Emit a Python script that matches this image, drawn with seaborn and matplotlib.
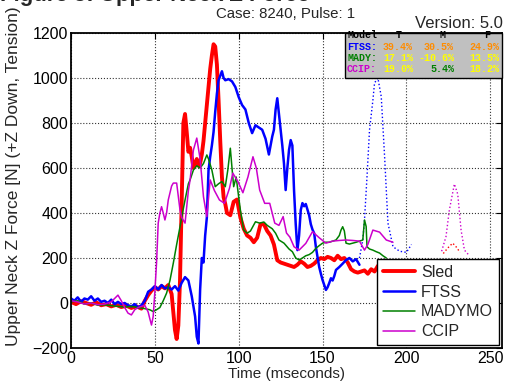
import numpy as np
import pandas as pd
import matplotlib
matplotlib.use('Agg')
import matplotlib.pyplot as plt
import seaborn as sns

sns.set_style('white')
plt.rcParams['font.family'] = ['Liberation Sans', 'DejaVu Sans']

# Sled (thick red)
sled_t = [0, 3, 6, 9, 12, 15, 18, 21, 24, 27,
          30, 33, 36, 39, 42, 44, 46, 48, 50, 52,
          54, 56, 58, 60, 61, 62, 63, 64, 65, 66,
          67, 68, 69, 70, 71, 72, 73, 74, 75, 76,
          77, 78, 79, 80, 81, 82, 83, 84, 85, 86,
          87, 88, 89, 90, 91, 92, 93, 95, 97, 99,
          101, 103, 105, 107, 109, 111, 113, 115, 117, 119,
          121, 123, 125, 127, 129, 131, 133, 135, 137, 139,
          141, 143, 145, 147, 149, 151, 153, 155, 157, 159,
          161, 163, 165, 167, 169, 171, 173, 175, 177, 179,
          181, 183, 185, 187, 189, 191, 193, 195]
sled_v = [5, -5, 8, 0, -8, 3, -10, -5, -15, -8,
          -18, -12, -22, -15, -25, 10, 35, 55, 70, 60,
          75, 65, 80, 40, -40, -120, -160, -100, 100, 450,
          800, 840, 760, 672, 690, 650, 600, 620, 640, 610,
          620, 660, 720, 800, 880, 960, 1040, 1100, 1150, 1140,
          1060, 900, 720, 560, 470, 440, 400, 390, 450, 460,
          380, 330, 300, 290, 270, 290, 350, 350, 320, 300,
          260, 190, 180, 175, 170, 165, 160, 170, 185, 175,
          160, 165, 175, 190, 200, 195, 205, 200, 190, 210,
          195, 200, 180, 150, 140, 135, 140, 145, 130, 150,
          140, 165, 175, 170, 165, 175, 170, 170]

# FTSS (blue)
ftss_t = [0, 2, 4, 6, 8, 10, 12, 14, 16, 18,
          20, 22, 24, 26, 28, 30, 32, 34, 36, 38,
          40, 42, 44, 46, 48, 50, 52, 54, 56, 58,
          60, 62, 64, 66, 68, 70, 72, 74, 75, 76,
          77, 78, 79, 80, 81, 82, 83, 84, 85, 86,
          87, 88, 89, 90, 91, 92, 94, 96, 98, 100,
          102, 104, 106, 108, 110, 112, 114, 116, 118, 120,
          121, 122, 123, 124, 125, 126, 127, 128, 129, 130,
          131, 132, 133, 134, 135, 136, 137, 138, 139, 140,
          141, 142, 143, 144, 145, 146, 147, 148, 149, 150,
          151, 152, 153, 154, 155, 156, 157, 158, 160, 162,
          164, 166, 168, 170, 172]
ftss_v = [20, 10, 25, 5, 20, 15, 30, 10, 20, 5,
          10, 0, 15, -5, 5, -5, 0, -10, -15, -5,
          -20, -10, 10, 50, 60, 75, 60, 80, 65, 70,
          60, 75, 55, 90, 115, 100, 30, -60, -150, -180,
          60, 200, 180, 300, 380, 590, 650, 700, 760, 850,
          930, 990, 1010, 1030, 1000, 990, 995, 985, 960, 915,
          880, 860, 800, 755, 790, 780, 770, 730, 660, 740,
          770, 860, 910, 840, 770, 700, 620, 502, 600, 680,
          724, 700, 500, 350, 235, 300, 413, 444, 430, 440,
          415, 390, 350, 326, 310, 250, 204, 160, 130, 102,
          80, 58, 70, 89, 110, 100, 120, 147, 160, 175,
          191, 200, 185, 195, 170]

# MADYMO (green)
mady_t = [0, 4, 8, 12, 16, 20, 24, 28, 32, 36,
          40, 44, 47, 49, 51, 53, 55, 57, 59, 61,
          63, 65, 67, 68, 70, 71, 73, 75, 77, 79,
          81, 82, 84, 86, 88, 90, 92, 93.5, 95, 96,
          97, 98.5, 100, 101, 103, 105, 107, 110, 112.5, 115,
          117, 120, 122, 124, 127, 130, 132, 134, 136, 138,
          140, 142, 144, 146, 148, 150, 152, 154, 156, 158,
          160, 161, 162, 163, 164, 166, 168, 170, 172, 174,
          175, 176, 176.5, 178, 180, 182, 184, 186, 188]
mady_v = [5, 10, -5, 0, -10, -8, -12, -15, -18, -15,
          -20, -25, -30, -38, -30, -20, 10, 44, 100, 177,
          260, 339, 420, 458, 530, 547, 591, 610, 600, 620,
          658, 640, 591, 517, 530, 540, 517, 591, 688, 600,
          517, 560, 470, 413, 324, 310, 320, 361, 355, 360,
          345, 330, 310, 280, 266, 240, 228, 200, 191, 200,
          210, 215, 225, 243, 255, 266, 270, 270, 275, 280,
          300, 324, 339, 320, 266, 262, 266, 270, 275, 280,
          369, 340, 250, 240, 235, 228, 222, 210, 200]

# CCIP (magenta)
ccip_t = [0, 4, 8, 12, 16, 20, 24, 26, 28, 30,
          32, 34, 36, 38, 40, 42, 44, 46, 47, 48,
          49, 50, 51, 52, 53, 54, 55, 56, 57, 58,
          60, 61, 63, 65, 66, 68, 70, 71, 73, 75,
          77, 79, 81, 83, 85.5, 88.5, 91.5, 94.5, 96.5, 99.5,
          102.5, 105.5, 108.5, 110.5, 112.5, 115.5, 118.5, 121.5, 124, 126.5,
          128.5, 130.5, 133, 136, 140, 144, 148, 152, 156, 160,
          164, 168, 172, 175, 177, 180, 184, 188, 192]
ccip_v = [10, 5, -5, 0, -8, -5, 5, 20, 35, 10,
          -20, -45, -53, -30, -20, -15, -10, -40, -70, -98,
          -60, 50, 177, 355, 400, 428, 400, 369, 400, 458,
          520, 533, 533, 413, 380, 355, 500, 547, 680, 733,
          640, 472, 384, 547, 500, 458, 443, 510, 577, 540,
          490, 560, 650, 600, 502, 443, 443, 355, 345, 384,
          311, 293, 250, 235, 265, 317, 290, 266, 275, 278,
          280, 278, 275, 235, 260, 324, 315, 280, 270]

# dotted traces on the right
ftss_dot_t = [172, 174, 175, 176.5, 178, 180, 181, 183, 185, 187, 189, 192, 196, 200, 203]
ftss_dot_v = [200, 280, 369, 560, 769, 900, 978, 1000, 917, 650, 355, 250, 230, 225, 260]
ccip_dot_t = [221, 223.6, 225.6, 228.6, 230.6, 232.6, 234.6, 237]
ccip_dot_v = [230, 295, 413, 529, 484, 324, 235, 215]
sled_dot_t = [222, 224.6, 227.6, 229.6, 232]
sled_dot_v = [220, 244, 266, 250, 225]

# error table
table_models = ['FTSS:', 'MADY:', 'CCIP:']
table_model_colors = ['#0000ff', '#008000', '#cc00cc']
table_vals = [['39.4%', '30.5%', '24.9%'],
              ['17.1%', '-10.6%', '13.5%'],
              ['19.0%', '5.4%', '18.2%']]
table_val_colors = [['#ff8c00', '#ff8c00', '#ff8c00'],
                    ['#ffff00', '#ffff00', '#ffff00'],
                    ['#ffff00', '#008000', '#ffff00']]

W, H = 506, 391
fig = plt.figure(figsize=(W / 100, H / 100), dpi=100)
ax = fig.add_axes([71 / W, 1 - 348 / H, (502 - 71) / W, (348 - 33) / H])

sns.lineplot(x=sled_dot_t, y=sled_dot_v, ax=ax, color='red', lw=1, ls=':', sort=False, estimator=None)
sns.lineplot(x=ccip_dot_t, y=ccip_dot_v, ax=ax, color='#cc00cc', lw=1, ls=':', sort=False, estimator=None)
sns.lineplot(x=ftss_dot_t, y=ftss_dot_v, ax=ax, color='#0000ff', lw=1, ls=':', sort=False, estimator=None)
sns.lineplot(x=sled_t, y=sled_v, ax=ax, color='red', lw=2.8, sort=False, estimator=None, label='Sled')
sns.lineplot(x=ftss_t, y=ftss_v, ax=ax, color='#0000ff', lw=1.8, sort=False, estimator=None, label='FTSS')
sns.lineplot(x=mady_t, y=mady_v, ax=ax, color='#008000', lw=1.1, sort=False, estimator=None, label='MADYMO')
sns.lineplot(x=ccip_t, y=ccip_v, ax=ax, color='#cc00cc', lw=1.1, sort=False, estimator=None, label='CCIP')

ax.set_xlim(0, 257)
ax.set_ylim(-200, 1200)
ax.set_xticks([0, 50, 100, 150, 200, 250])
ax.set_yticks(range(-200, 1201, 200))
ax.grid(True, ls=':', color='#333333', lw=0.8)
ax.tick_params(direction='in', top=True, right=True, labelsize=11.5, length=4, colors='black', pad=2)
for s in ax.spines.values():
    s.set_color('black')
    s.set_linewidth(1.3)
ax.set_xlabel('Time (mseconds)', fontsize=11, labelpad=1)
ax.set_ylabel('Upper Neck Z Force [N] (+Z Down, Tension)', fontsize=12.5)
ax.yaxis.set_label_coords(-0.117, 0.545)

leg = ax.legend(loc='lower right', fontsize=11.5, frameon=True, fancybox=False,
                edgecolor='black', framealpha=1, handlelength=2.0, handletextpad=0.4,
                borderaxespad=0.2, labelspacing=0.3, borderpad=0.35)
leg.get_frame().set_linewidth(1.0)

# titles
fig.text(0, 1 - 1 / H, 'Figure 5: Upper Neck Z Force', fontsize=16, fontweight='bold', va='baseline', ha='left')
fig.text(286 / W, 1 - 14 / H, 'Case: 8240, Pulse: 1', fontsize=10.8, ha='center', va='center')
fig.text(503 / W, 1 - 23 / H, 'Version: 5.0', fontsize=12, ha='right', va='center')

# table box
box = plt.Rectangle((345 / W, 1 - 78 / H), (502 - 345) / W, 45 / H, transform=fig.transFigure,
                    facecolor='#c0c0c0', edgecolor='black', lw=1, zorder=5)
fig.patches.append(box)
mono = dict(family='Liberation Mono', fontweight='bold', fontsize=7.2, va='center', zorder=6)
row_y = [35.5, 46.5, 58, 69.5]
fig.text(347 / W, 1 - row_y[0] / H, 'Model', color='black', ha='left', **mono)
for hx, h in zip([399, 443, 487], ['T', 'M', 'F']):
    fig.text(hx / W, 1 - row_y[0] / H, h, color='black', ha='center', **mono)
for i, m in enumerate(table_models):
    fig.text(347 / W, 1 - row_y[i + 1] / H, m, color=table_model_colors[i], ha='left', **mono)
    for j, vx in enumerate([413, 454, 499]):
        fig.text(vx / W, 1 - row_y[i + 1] / H, table_vals[i][j], color=table_val_colors[i][j], ha='right', **mono)

plt.savefig('out.png', dpi=100)
